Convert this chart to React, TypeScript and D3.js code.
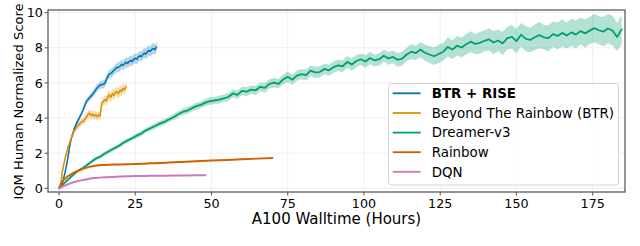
import React from "react";
import * as d3 from "d3";

const W = 640;
const H = 246;

const xTicks = [0, 25, 50, 75, 100, 125, 150, 175];
const yTicks = [0, 2, 4, 6, 8, 10];

const seriesNames = ["BTR + RISE", "Beyond The Rainbow (BTR)", "Dreamer-v3", "Rainbow", "DQN"];
const seriesColors = ["#0173b2", "#de8f05", "#029e73", "#d55e00", "#cc78bc"];

// BTR + RISE, sampled every 0.5 h
const riseStep = 0.5;
const riseValues = [
  0, 0.02, 0.22, 0.55, 0.92, 1.35, 1.82, 2.4, 2.8, 3.1,
  3.4, 3.6, 3.78, 3.95, 4.12, 4.3, 4.5, 4.75, 4.95, 5.05,
  5.15, 5.25, 5.35, 5.45, 5.6, 5.72, 5.8, 5.88, 5.9, 5.92,
  5.98, 6.18, 6.38, 6.5, 6.55, 6.62, 6.72, 6.8, 6.9, 6.88,
  6.95, 7.05, 7.0, 7.1, 7.18, 7.12, 7.22, 7.28, 7.22, 7.35,
  7.4, 7.35, 7.48, 7.55, 7.5, 7.62, 7.7, 7.65, 7.78, 7.85,
  7.8, 7.92, 7.95, 7.9, 8.05,
];
const riseSpread = [
  0, 0.02, 0.04, 0.06, 0.08, 0.1, 0.1, 0.12, 0.12, 0.13,
  0.14, 0.13, 0.15, 0.14, 0.15, 0.16, 0.15, 0.17, 0.16, 0.18,
  0.17, 0.19, 0.18, 0.2, 0.19, 0.21, 0.2, 0.22, 0.21, 0.23,
  0.22, 0.24, 0.23, 0.25, 0.24, 0.26, 0.25, 0.27, 0.26, 0.28,
  0.27, 0.25, 0.28, 0.26, 0.29, 0.27, 0.28, 0.3, 0.27, 0.29,
  0.28, 0.3, 0.27, 0.29, 0.31, 0.28, 0.3, 0.29, 0.31, 0.28,
  0.3, 0.32, 0.29, 0.31, 0.3,
];

// Beyond The Rainbow, sampled every 0.5 h
const btrStep = 0.5;
const btrValues = [
  0, 0.05, 0.85, 1.3, 1.7, 2.05, 2.35, 2.6, 2.85, 3.1,
  3.28, 3.4, 3.55, 3.6, 3.72, 3.78, 3.82, 3.95, 4.05, 4.2,
  4.28, 4.15, 4.22, 4.1, 4.2, 4.08, 4.18, 4.1, 4.85, 4.92,
  5.05, 4.98, 5.2, 5.32, 5.18, 5.4, 5.3, 5.48, 5.5, 5.38,
  5.6, 5.52, 5.7, 5.62, 5.78,
];
const btrSpread = [
  0, 0.03, 0.06, 0.08, 0.1, 0.12, 0.13, 0.14, 0.15, 0.16,
  0.18, 0.17, 0.19, 0.2, 0.18, 0.21, 0.2, 0.22, 0.21, 0.23,
  0.22, 0.24, 0.21, 0.25, 0.23, 0.22, 0.24, 0.25, 0.26, 0.24,
  0.27, 0.25, 0.28, 0.26, 0.29, 0.27, 0.3, 0.26, 0.29, 0.28,
  0.31, 0.27, 0.3, 0.28, 0.3,
];

// Dreamer-v3, sampled every 1.5 h
const dreamerStep = 1.5;
const dreamerValues = [
  0, 0.25, 0.5, 0.74, 0.97, 1.12, 1.3, 1.5, 1.68, 1.8,
  1.98, 2.12, 2.27, 2.4, 2.58, 2.72, 2.85, 3.0, 3.12, 3.3,
  3.42, 3.55, 3.68, 3.78, 3.92, 4.05, 4.2, 4.35, 4.42, 4.55,
  4.68, 4.75, 4.88, 4.97, 5.0, 5.05, 5.12, 5.2, 5.4, 5.32,
  5.55, 5.5, 5.62, 5.58, 5.78, 5.72, 5.95, 6.02, 5.95, 6.2,
  6.35, 6.18, 6.42, 6.5, 6.45, 6.7, 6.6, 6.62, 6.8, 6.72,
  6.9, 7.0, 6.95, 7.2, 7.05, 7.25, 7.35, 7.22, 7.42, 7.28,
  7.35, 7.55, 7.4, 7.48, 7.32, 7.38, 7.62, 7.78, 7.7, 7.9,
  7.72, 7.62, 7.52, 7.65, 7.78, 8.05, 7.9, 8.12, 8.02, 8.2,
  8.35, 8.22, 8.28, 8.4, 8.48, 8.3, 8.42, 8.25, 8.55, 8.62,
  8.38, 8.75, 8.52, 8.45, 8.6, 8.72, 8.6, 8.55, 8.78, 8.68,
  8.85, 8.7, 8.88, 8.75, 8.95, 8.82, 8.98, 9.12, 9.0, 8.92,
  9.1, 8.98, 8.62, 9.05,
];
const dreamerSpread = [
  0, 0.05, 0.07, 0.08, 0.09, 0.1, 0.1, 0.1, 0.11, 0.11,
  0.12, 0.12, 0.13, 0.12, 0.13, 0.14, 0.13, 0.14, 0.15, 0.14,
  0.15, 0.16, 0.15, 0.17, 0.16, 0.18, 0.17, 0.18, 0.19, 0.18,
  0.2, 0.19, 0.2, 0.21, 0.2, 0.22, 0.21, 0.23, 0.22, 0.24,
  0.23, 0.25, 0.24, 0.26, 0.25, 0.27, 0.26, 0.28, 0.27, 0.28,
  0.3, 0.28, 0.3, 0.29, 0.31, 0.3, 0.32, 0.31, 0.3, 0.32,
  0.33, 0.32, 0.34, 0.33, 0.35, 0.34, 0.33, 0.36, 0.35, 0.34,
  0.36, 0.35, 0.37, 0.36, 0.38, 0.4, 0.38, 0.42, 0.4, 0.43,
  0.45, 0.48, 0.5, 0.52, 0.5, 0.55, 0.53, 0.56, 0.55, 0.58,
  0.6, 0.57, 0.62, 0.6, 0.63, 0.65, 0.62, 0.66, 0.64, 0.68,
  0.7, 0.67, 0.72, 0.7, 0.73, 0.75, 0.7, 0.74, 0.72, 0.76,
  0.78, 0.74, 0.77, 0.8, 0.76, 0.8, 0.78, 0.82, 0.8, 0.84,
  0.82, 0.85, 0.8, 0.84,
];

// Rainbow
const rainbowHours = [0, 1, 2, 3, 4, 5, 6, 7, 8, 10, 12, 15, 20, 25, 30, 35, 40, 45, 50, 55, 60, 65, 70];
const rainbowValues = [0, 0.35, 0.55, 0.7, 0.8, 0.9, 0.98, 1.05, 1.12, 1.22, 1.29, 1.33, 1.36, 1.39, 1.42, 1.46, 1.5, 1.54, 1.58, 1.61, 1.65, 1.69, 1.73];

// DQN
const dqnHours = [0, 1, 2, 3, 4, 6, 8, 10, 12, 15, 20, 25, 30, 35, 40, 45, 48];
const dqnValues = [0, 0.08, 0.16, 0.23, 0.3, 0.4, 0.48, 0.55, 0.59, 0.63, 0.67, 0.7, 0.71, 0.72, 0.73, 0.74, 0.74];

type Pt = { h: number; v: number; s: number };

function stepped(step: number, vals: number[], spread: number[]): Pt[] {
  return vals.map((v, i) => ({ h: i * step, v, s: spread[i] ?? 0 }));
}
function paired(hours: number[], vals: number[]): Pt[] {
  return hours.map((h, i) => ({ h, v: vals[i], s: 0 }));
}

export default function App() {
  const x = d3.scaleLinear().domain([0, 175]).range([59, 592.7]);
  const y = d3.scaleLinear().domain([0, 10]).range([188.3, 12.7]);
  const left = 48, right = 625, top = 10, bottom = 192;

  const series: { pts: Pt[]; band: boolean; width: number; smooth: boolean }[] = [
    { pts: stepped(riseStep, riseValues, riseSpread), band: true, width: 1.5, smooth: false },
    { pts: stepped(btrStep, btrValues, btrSpread), band: true, width: 1.5, smooth: false },
    { pts: stepped(dreamerStep, dreamerValues, dreamerSpread), band: true, width: 1.8, smooth: false },
    { pts: paired(rainbowHours, rainbowValues), band: false, width: 2, smooth: true },
    { pts: paired(dqnHours, dqnValues), band: false, width: 2, smooth: true },
  ];

  const line = (smooth: boolean) =>
    d3.line<Pt>().x((d) => x(d.h)).y((d) => y(d.v)).curve(smooth ? d3.curveMonotoneX : d3.curveLinear);
  const area = d3
    .area<Pt>()
    .x((d) => x(d.h))
    .y0((d) => y(d.v - d.s))
    .y1((d) => y(d.v + d.s));

  const font = "DejaVu Sans, sans-serif";
  const legX = 388.5, legY = 83.5, legW = 230, legH = 101.5;
  const rowY = [93.3, 113, 132.6, 152.2, 171.8];

  return (
    <svg width={W} height={H} style={{ position: "fixed", left: 0, top: 0, background: "#fff" }} fontFamily={font}>
      <defs>
        <clipPath id="plot">
          <rect x={left} y={top} width={right - left} height={bottom - top} />
        </clipPath>
      </defs>
      <rect x={0} y={0} width={W} height={H} fill="#fff" />
      {/* grid */}
      {xTicks.map((t) => (
        <line key={"gx" + t} x1={x(t)} x2={x(t)} y1={top} y2={bottom} stroke="#ebebeb" strokeWidth={0.8} />
      ))}
      {yTicks.map((t) => (
        <line key={"gy" + t} x1={left} x2={right} y1={y(t)} y2={y(t)} stroke="#ebebeb" strokeWidth={0.8} />
      ))}
      <g clipPath="url(#plot)">
        {series.map((s, i) =>
          s.band ? (
            <path key={"b" + i} d={area(s.pts) || ""} fill={seriesColors[i]} fillOpacity={0.3} stroke="none" />
          ) : null
        )}
        {series.map((s, i) => (
          <path
            key={"l" + i}
            d={line(s.smooth)(s.pts) || ""}
            fill="none"
            stroke={seriesColors[i]}
            strokeWidth={s.width}
            strokeLinejoin="round"
            strokeLinecap="round"
          />
        ))}
      </g>
      {/* frame */}
      <rect x={left} y={top} width={right - left} height={bottom - top} fill="none" stroke="#555" strokeWidth={1.25} />
      {/* ticks */}
      {xTicks.map((t) => (
        <g key={"xt" + t}>
          <line x1={x(t)} x2={x(t)} y1={bottom} y2={bottom + 3.5} stroke="#555" strokeWidth={1} />
          <text x={x(t)} y={207.5} fontSize={12.7} textAnchor="middle" fill="#000">
            {t}
          </text>
        </g>
      ))}
      {yTicks.map((t) => (
        <g key={"yt" + t}>
          <line x1={left - 3.5} x2={left} y1={y(t)} y2={y(t)} stroke="#555" strokeWidth={1} />
          <text x={42.8} y={y(t) + 4.6} fontSize={12.7} textAnchor="end" fill="#000">
            {t}
          </text>
        </g>
      ))}
      <text x={336.5} y={223.5} fontSize={15} textAnchor="middle" fill="#000">
        A100 Walltime (Hours)
      </text>
      <text transform={`translate(23, 101.5) rotate(-90)`} fontSize={13.1} textAnchor="middle" fill="#000">
        IQM Human Normalized Score
      </text>
      {/* legend */}
      <rect x={legX} y={legY} width={legW} height={legH} rx={3} fill="#fff" fillOpacity={0.85} stroke="#d6d6d6" strokeWidth={1} />
      {seriesNames.map((n, i) => (
        <g key={"lg" + i}>
          <line x1={392.7} x2={420.7} y1={rowY[i]} y2={rowY[i]} stroke={seriesColors[i]} strokeWidth={1.8} />
          <text x={431.7} y={rowY[i] + 4.8} fontSize={13.4} fontWeight={i === 0 ? "bold" : "normal"} fill="#000">
            {n}
          </text>
        </g>
      ))}
    </svg>
  );
}
